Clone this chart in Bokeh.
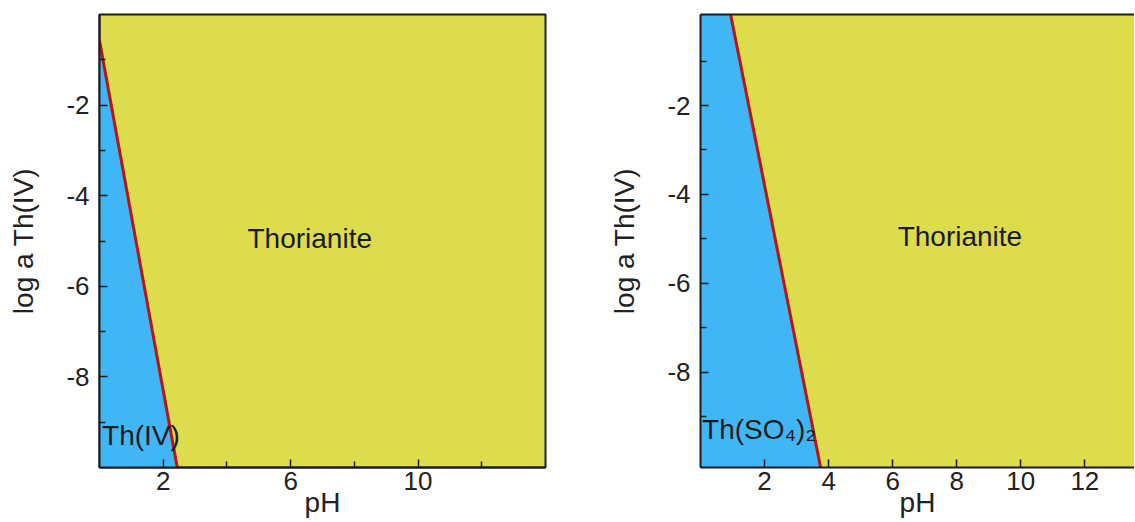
from bokeh.plotting import figure
from bokeh.layouts import row
from bokeh.models import Range1d, FixedTicker, LinearAxis
from bokeh.core.properties import value
from bokeh.embed import file_html
from bokeh.resources import INLINE

# ---- data ----
# left panel: Th(IV) / Thorianite boundary
left_boundary_ph = [0.0, 2.44]
left_boundary_loga = [-0.58, -10.0]
# right panel: Th(SO4)2 / Thorianite boundary
right_boundary_ph = [0.94, 3.75]
right_boundary_loga = [0.05, -10.15]

left_xticks_major = [2, 6, 10]
left_xticks_minor = [4, 8, 12]
right_xticks_major = [2, 4, 6, 8, 10, 12]
yticks_major = [-8, -6, -4, -2]
yticks_minor = [-9, -7, -5, -3, -1]

region_labels_left = ["Thorianite", "Th(IV)"]
region_labels_right = ["Thorianite", "Th(SO\u2084)\u2082"]

BLUE = "#41b6f6"
YELLOW = "#dcdc4c"
RED = "#b8141c"
DARK = "#1c1c1c"
FONT = "Liberation Sans"


def style(p, xmajor, xminor):
    p.background_fill_color = YELLOW
    p.border_fill_color = "white"
    p.grid.visible = False
    for ax in p.xaxis:
        ax.ticker = FixedTicker(ticks=xmajor, minor_ticks=xminor)
        ax.major_label_standoff = 4
        ax.axis_label_standoff = -6
    for ax in p.yaxis:
        ax.ticker = FixedTicker(ticks=yticks_major, minor_ticks=yticks_minor)
        ax.major_label_overrides = {t: "-%d" % abs(t) for t in yticks_major}
        ax.major_label_standoff = 10
        ax.axis_label_standoff = 24
    for ax in p.axis:
        ax.axis_line_color = DARK
        ax.axis_line_width = 2
        ax.major_tick_in = 8
        ax.major_tick_out = 0
        ax.minor_tick_in = 6
        ax.minor_tick_out = 0
        ax.major_tick_line_color = DARK
        ax.minor_tick_line_color = DARK
        ax.major_tick_line_width = 1.5
        ax.minor_tick_line_width = 1.5
        ax.major_label_text_font = FONT
        ax.major_label_text_font_size = "26px"
        ax.major_label_text_color = "#222222"
        ax.axis_label_text_font = FONT
        ax.axis_label_text_font_size = "28px"
        ax.axis_label_text_font_style = "normal"
        ax.axis_label_text_color = "#222222"


# ---- left panel ----
p1 = figure(width=560, height=520, output_backend="svg", toolbar_location=None,
            x_range=Range1d(0, 14), y_range=Range1d(-10, 0),
            min_border_left=99, min_border_right=15, min_border_top=14,
            min_border_bottom=53,
            x_axis_label="pH", y_axis_label="log a Th(IV)")
style(p1, left_xticks_major, left_xticks_minor)
p1.outline_line_color = DARK
p1.outline_line_width = 2
p1.outline_line_alpha = 1

xs1 = [0.0] + left_boundary_ph + [0.0]
ys1 = [left_boundary_loga[0]] + left_boundary_loga + [-10.0]
p1.patch(xs1, ys1, fill_color=BLUE, line_color=None)
p1.line(left_boundary_ph, left_boundary_loga, line_color=RED, line_width=3)
p1.text(x=[6.6], y=[-4.95], text=[region_labels_left[0]], text_align="center",
        text_baseline="middle", text_font=value(FONT), text_font_size="28px",
        text_color="#1a1a1a")
p1.text(x=[0.08], y=[-9.3], text=[region_labels_left[1]], text_align="left",
        text_baseline="middle", text_font=value(FONT), text_font_size="28px",
        text_color="#1a1a1a")

# ---- right panel ----
p2 = figure(width=574, height=520, output_backend="svg", toolbar_location=None,
            x_range=Range1d(0, 13.55), y_range=Range1d(-10.15, 0.05),
            min_border_left=140, min_border_right=0, min_border_top=14,
            min_border_bottom=53,
            x_axis_label="pH", y_axis_label="log a Th(IV)")
style(p2, right_xticks_major, [])
p2.outline_line_color = None
top_axis = LinearAxis(ticker=FixedTicker(ticks=[]), axis_line_color=DARK,
                      axis_line_width=2, major_label_text_font_size="0px",
                      major_tick_in=0, major_tick_out=0, minor_tick_in=0,
                      minor_tick_out=0, major_label_standoff=0)
p2.add_layout(top_axis, "above")

xs2 = [0.0] + right_boundary_ph + [0.0]
ys2 = [0.05] + right_boundary_loga + [-10.15]
p2.patch(xs2, ys2, fill_color=BLUE, line_color=None)
p2.line(right_boundary_ph, right_boundary_loga, line_color=RED, line_width=3)
p2.text(x=[8.1], y=[-4.95], text=[region_labels_right[0]], text_align="center",
        text_baseline="middle", text_font=value(FONT), text_font_size="28px",
        text_color="#1a1a1a")
p2.text(x=[0.05], y=[-9.3], text=[region_labels_right[1]], text_align="left",
        text_baseline="middle", text_font=value(FONT), text_font_size="28px",
        text_color="#1a1a1a")

layout = row(p1, p2)
open("out.html", "w").write(file_html(layout, INLINE))
